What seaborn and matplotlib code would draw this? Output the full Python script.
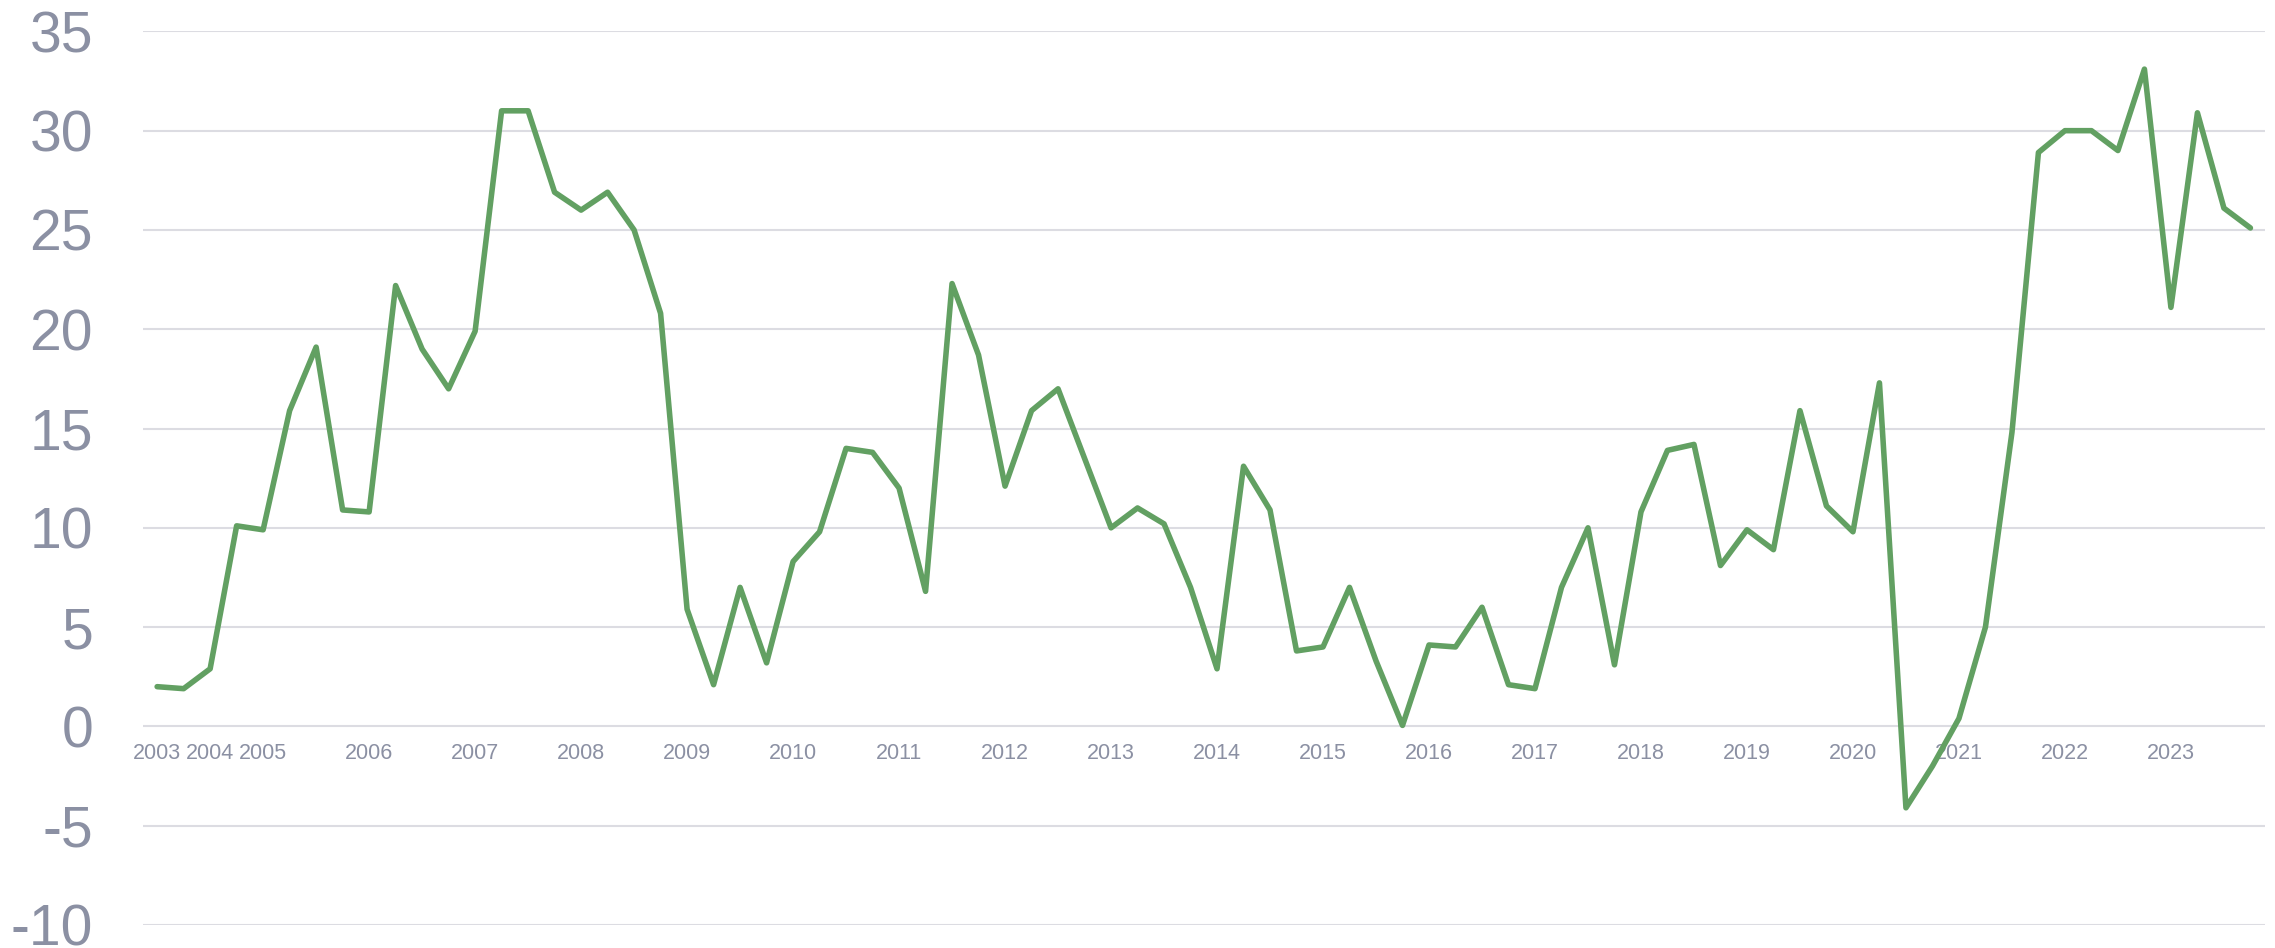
import numpy as np
import pandas as pd
import seaborn as sns
import matplotlib.pyplot as plt

# periods: half years for 2003-2004, quarters from 2005 on
periods = ['2003-H1', '2003-H2', '2004-H1', '2004-H2'] + \
    ['%d-Q%d' % (y, q) for y in range(2005, 2024) for q in range(1, 5)]

values = [2.0, 1.9, 2.9, 10.1,
          9.9, 15.9, 19.1, 10.9,
          10.8, 22.2, 19.0, 17.0,
          19.9, 31.0, 31.0, 26.9,
          26.0, 26.9, 25.0, 20.8,
          5.9, 2.1, 7.0, 3.2,
          8.3, 9.8, 14.0, 13.8,
          12.0, 6.8, 22.3, 18.7,
          12.1, 15.9, 17.0, 13.5,
          10.0, 11.0, 10.2, 7.0,
          2.9, 13.1, 10.9, 3.8,
          4.0, 7.0, 3.3, 0.05,
          4.1, 4.0, 6.0, 2.1,
          1.9, 7.0, 10.0, 3.1,
          10.8, 13.9, 14.2, 8.1,
          9.9, 8.9, 15.9, 11.1,
          9.8, 17.3, -4.1, -2.0,
          0.4, 5.0, 14.8, 28.9,
          30.0, 30.0, 29.0, 33.1,
          21.1, 30.9, 26.1, 25.1]

y_ticks = [-10, -5, 0, 5, 10, 15, 20, 25, 30, 35]

line_color = '#62a062'
label_color = '#8b90a3'
grid_color = '#dcdce2'

df = pd.DataFrame({'period': periods, 'value': values})
df['pos'] = np.arange(len(df))
df['year'] = df['period'].str[:4]

sns.set_theme(style='white')
plt.rcParams['font.family'] = ['Liberation Sans', 'DejaVu Sans']
plt.rcParams['axes.unicode_minus'] = False

fig = plt.figure(figsize=(22.75, 9.48), dpi=100)
ax = fig.add_axes([0.0629, 0.0243, 0.9327, 0.9426])

sns.lineplot(data=df, x='pos', y='value', color=line_color, linewidth=4.0,
             ax=ax, solid_joinstyle='round', solid_capstyle='round', zorder=3)

ax.set_ylim(-10, 35)
ax.set_xlim(-0.53, 79.55)
ax.set_yticks(y_ticks)
ax.set_yticklabels([str(t) for t in y_ticks])
ax.grid(axis='y', color=grid_color, linewidth=1.5)
ax.grid(axis='x', visible=False)

# one label at the first period of each year, drawn along the zero line
first = df.groupby('year', sort=False)['pos'].first()
ax.set_xticks(first.values)
ax.set_xticklabels(first.index)
ax.spines['bottom'].set_position(('data', 0))

for s in ax.spines.values():
    s.set_visible(False)

ax.tick_params(axis='y', length=0, pad=36, labelsize=41, labelcolor=label_color)
ax.tick_params(axis='x', length=0, pad=12, labelsize=15.5, labelcolor=label_color)
ax.set_xlabel('')
ax.set_ylabel('')

fig.savefig('out.png', dpi=100)
